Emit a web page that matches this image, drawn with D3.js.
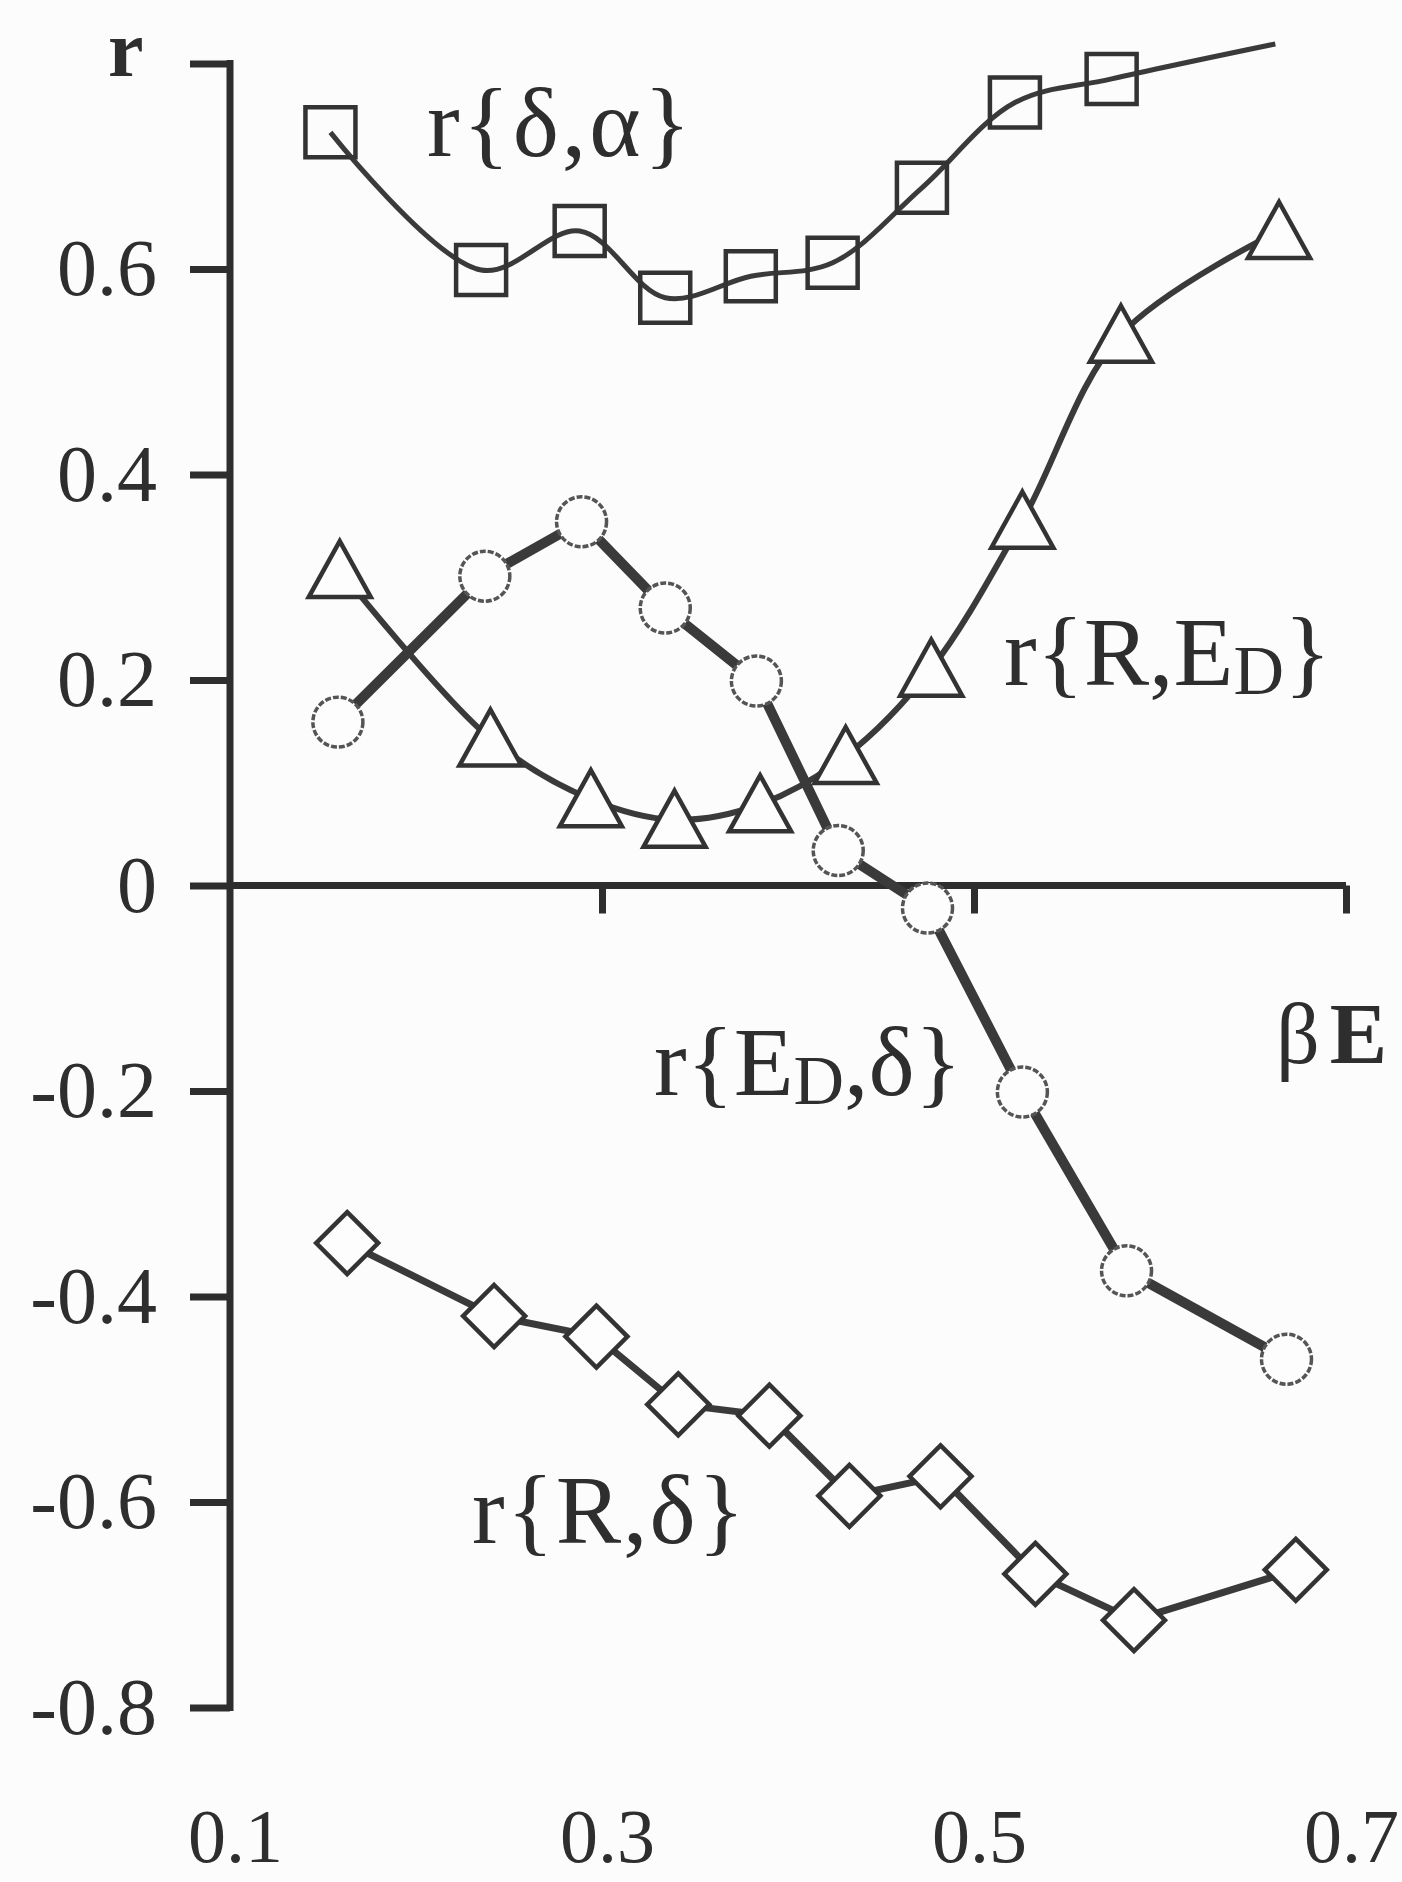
<!DOCTYPE html>
<html>
<head>
<meta charset="utf-8">
<script src="https://cdn.jsdelivr.net/npm/d3@7"></script>
<style>
  body { margin: 0; background: #fcfcfc; }
  svg { display: block; }
  text { font-family: "Liberation Serif", "Times New Roman", serif; fill: #2e2e2e; }
</style>
</head>
<body>
<div id="chart"></div>
<script>
// beta*E positions of each point (the markers of each series sit at slightly different x)
var betaSq  = [0.154, 0.235, 0.288, 0.334, 0.380, 0.424, 0.472, 0.522, 0.574, 0.662];
var betaCir = [0.158, 0.237, 0.289, 0.334, 0.383, 0.427, 0.475, 0.526, 0.582, 0.668];
var betaTri = [0.159, 0.240, 0.294, 0.339, 0.385, 0.431, 0.477, 0.526, 0.579, 0.664];
var betaDia = [0.163, 0.242, 0.297, 0.341, 0.390, 0.433, 0.482, 0.533, 0.586, 0.673];

// correlation coefficients
var rDeltaAlpha = [0.733, 0.599, 0.637, 0.572, 0.593, 0.606, 0.679, 0.762, 0.785, 0.819];
var rEdDelta    = [0.159, 0.301, 0.354, 0.270, 0.199, 0.034, -0.022, -0.201, -0.375, -0.461];
var rREd        = [0.307, 0.143, 0.084, 0.064, 0.079, 0.126, 0.211, 0.355, 0.536, 0.637];
var rRDelta     = [-0.348, -0.419, -0.439, -0.505, -0.516, -0.594, -0.575, -0.670, -0.715, -0.666];

var yTicks = [0.8, 0.6, 0.4, 0.2, 0, -0.2, -0.4, -0.6, -0.8];
var xTicks = [0.1, 0.3, 0.5, 0.7];

var W = 1402, H = 1882;
var ink = "#2e2e2e";

var svg = d3.select("#chart").append("svg")
    .attr("width", W)
    .attr("height", H);

var x = d3.scaleLinear().domain([0.1, 0.7]).range([230, 1346]);
var y = d3.scaleLinear().domain([-0.8, 0.8]).range([1707.5, 63.5]);

// y axis
var yAxis = d3.axisLeft(y)
    .tickValues(yTicks)
    .tickSize(40)
    .tickPadding(33)
    .tickFormat(function(d){ return d == 0.8 ? "" : (d == 0 ? "0" : d.toFixed(1)); });

var gy = svg.append("g")
    .attr("transform", "translate(" + x(0.1) + ",0)")
    .call(yAxis);
gy.select(".domain").remove();
gy.append("line")
    .attr("y1", y(0.8)).attr("y2", y(-0.8))
    .attr("stroke", ink).attr("stroke-width", 7).attr("stroke-linecap", "square");
gy.selectAll(".tick line").attr("stroke", ink).attr("stroke-width", 7);
gy.selectAll(".tick text")
    .attr("font-size", 80)
    .attr("font-family", "Liberation Serif")
    .attr("fill", ink);

// x axis along r = 0
var xAxis = d3.axisBottom(x)
    .tickValues([0.3, 0.5, 0.7])
    .tickSize(28)
    .tickFormat("");
var gx = svg.append("g")
    .attr("transform", "translate(0," + y(0) + ")")
    .call(xAxis);
gx.select(".domain").remove();
gx.append("line")
    .attr("x1", x(0.1)).attr("x2", x(0.7))
    .attr("stroke", ink).attr("stroke-width", 7);
gx.selectAll(".tick line").attr("stroke", ink).attr("stroke-width", 7);

// x tick labels at the bottom of the figure
var gxl = svg.append("g")
    .attr("transform", "translate(0,1862)")
    .call(d3.axisBottom(x).tickValues(xTicks).tickSize(0)
        .tickFormat(function(d){ return d.toFixed(1); }));
gxl.select(".domain").remove();
gxl.selectAll(".tick text")
    .attr("y", 0).attr("dy", 0).attr("dx", 5)
    .attr("font-size", 76)
    .attr("font-family", "Liberation Serif")
    .attr("fill", ink);

function pts(xs, ys) {
    return xs.map(function(v, i){ return { x: v, y: ys[i] }; });
}

var series = [
    { name: "dalpha", data: pts(betaSq, rDeltaAlpha), width: 5, curve: d3.curveCatmullRom, marker: "square" },
    { name: "red",    data: pts(betaTri, rREd),       width: 6, curve: d3.curveCatmullRom, marker: "triangle" },
    { name: "edd",    data: pts(betaCir, rEdDelta),   width: 10, curve: d3.curveLinear,    marker: "circle" },
    { name: "rd",     data: pts(betaDia, rRDelta),    width: 7, curve: d3.curveLinear,     marker: "diamond" }
];

series.forEach(function(s){
    var line = d3.line()
        .x(function(d){ return x(d.x); })
        .y(function(d){ return y(d.y); })
        .curve(s.curve);
    svg.append("path")
        .attr("d", line(s.data))
        .attr("fill", "none")
        .attr("stroke", "#3a3a3a")
        .attr("stroke-width", s.width)
        .attr("stroke-linejoin", "round");
});

function markerPath(type) {
    if (type == "square") return "M-25,-25H25V25H-25Z";
    if (type == "triangle") return "M0,-29L31,27H-31Z";
    if (type == "diamond") return "M0,-31L31,0L0,31L-31,0Z";
    return null;
}

series.forEach(function(s){
    // points above the plot top (r > 0.8) get no marker
    var shown = s.data.filter(function(d){ return d.y <= 0.8; });
    var g = svg.append("g");
    if (s.marker == "circle") {
        g.selectAll("circle").data(shown).enter().append("circle")
            .attr("cx", function(d){ return x(d.x); })
            .attr("cy", function(d){ return y(d.y); })
            .attr("r", 25)
            .attr("fill", "#fdfdfd")
            .attr("stroke", "#555")
            .attr("stroke-width", 3.5)
            .attr("stroke-dasharray", "6,2");
    } else {
        g.selectAll("path").data(shown).enter().append("path")
            .attr("d", markerPath(s.marker))
            .attr("transform", function(d){ return "translate(" + x(d.x) + "," + y(d.y) + ")"; })
            .attr("fill", s.marker == "square" ? "none" : "#fdfdfd")
            .attr("stroke", "#333")
            .attr("stroke-width", 4.5)
            .attr("stroke-linejoin", "miter");
    }
});

// series labels
function label(xp, yp, parts, spacing) {
    var t = svg.append("text")
        .attr("x", xp).attr("y", yp)
        .attr("font-size", 98)
        .attr("letter-spacing", spacing || 0);
    parts.forEach(function(p){
        var sp = t.append("tspan").text(p.t);
        if (p.sub) sp.attr("font-size", 70).attr("dy", 9);
        if (p.back) sp.attr("dy", -9);
    });
    return t;
}

label(427, 156, [{ t: "r{\u03B4,\u03B1}" }], 3);
label(1004, 685, [{ t: "r{R,E" }, { t: "D", sub: true }, { t: "}", back: true }]);
label(654, 1095, [{ t: "r{E" }, { t: "D", sub: true }, { t: ",\u03B4}", back: true }]);
label(472, 1543, [{ t: "r{R,\u03B4}" }], 2);

// axis titles
svg.append("text")
    .attr("x", 108).attr("y", 76)
    .attr("font-size", 80)
    .attr("font-weight", "bold")
    .text("r");

var be = svg.append("text")
    .attr("x", 1276).attr("y", 1063)
    .attr("font-size", 86);
be.append("tspan").text("\u03B2");
be.append("tspan").attr("dx", 10).attr("font-weight", "bold").text("E");
</script>
</body>
</html>
